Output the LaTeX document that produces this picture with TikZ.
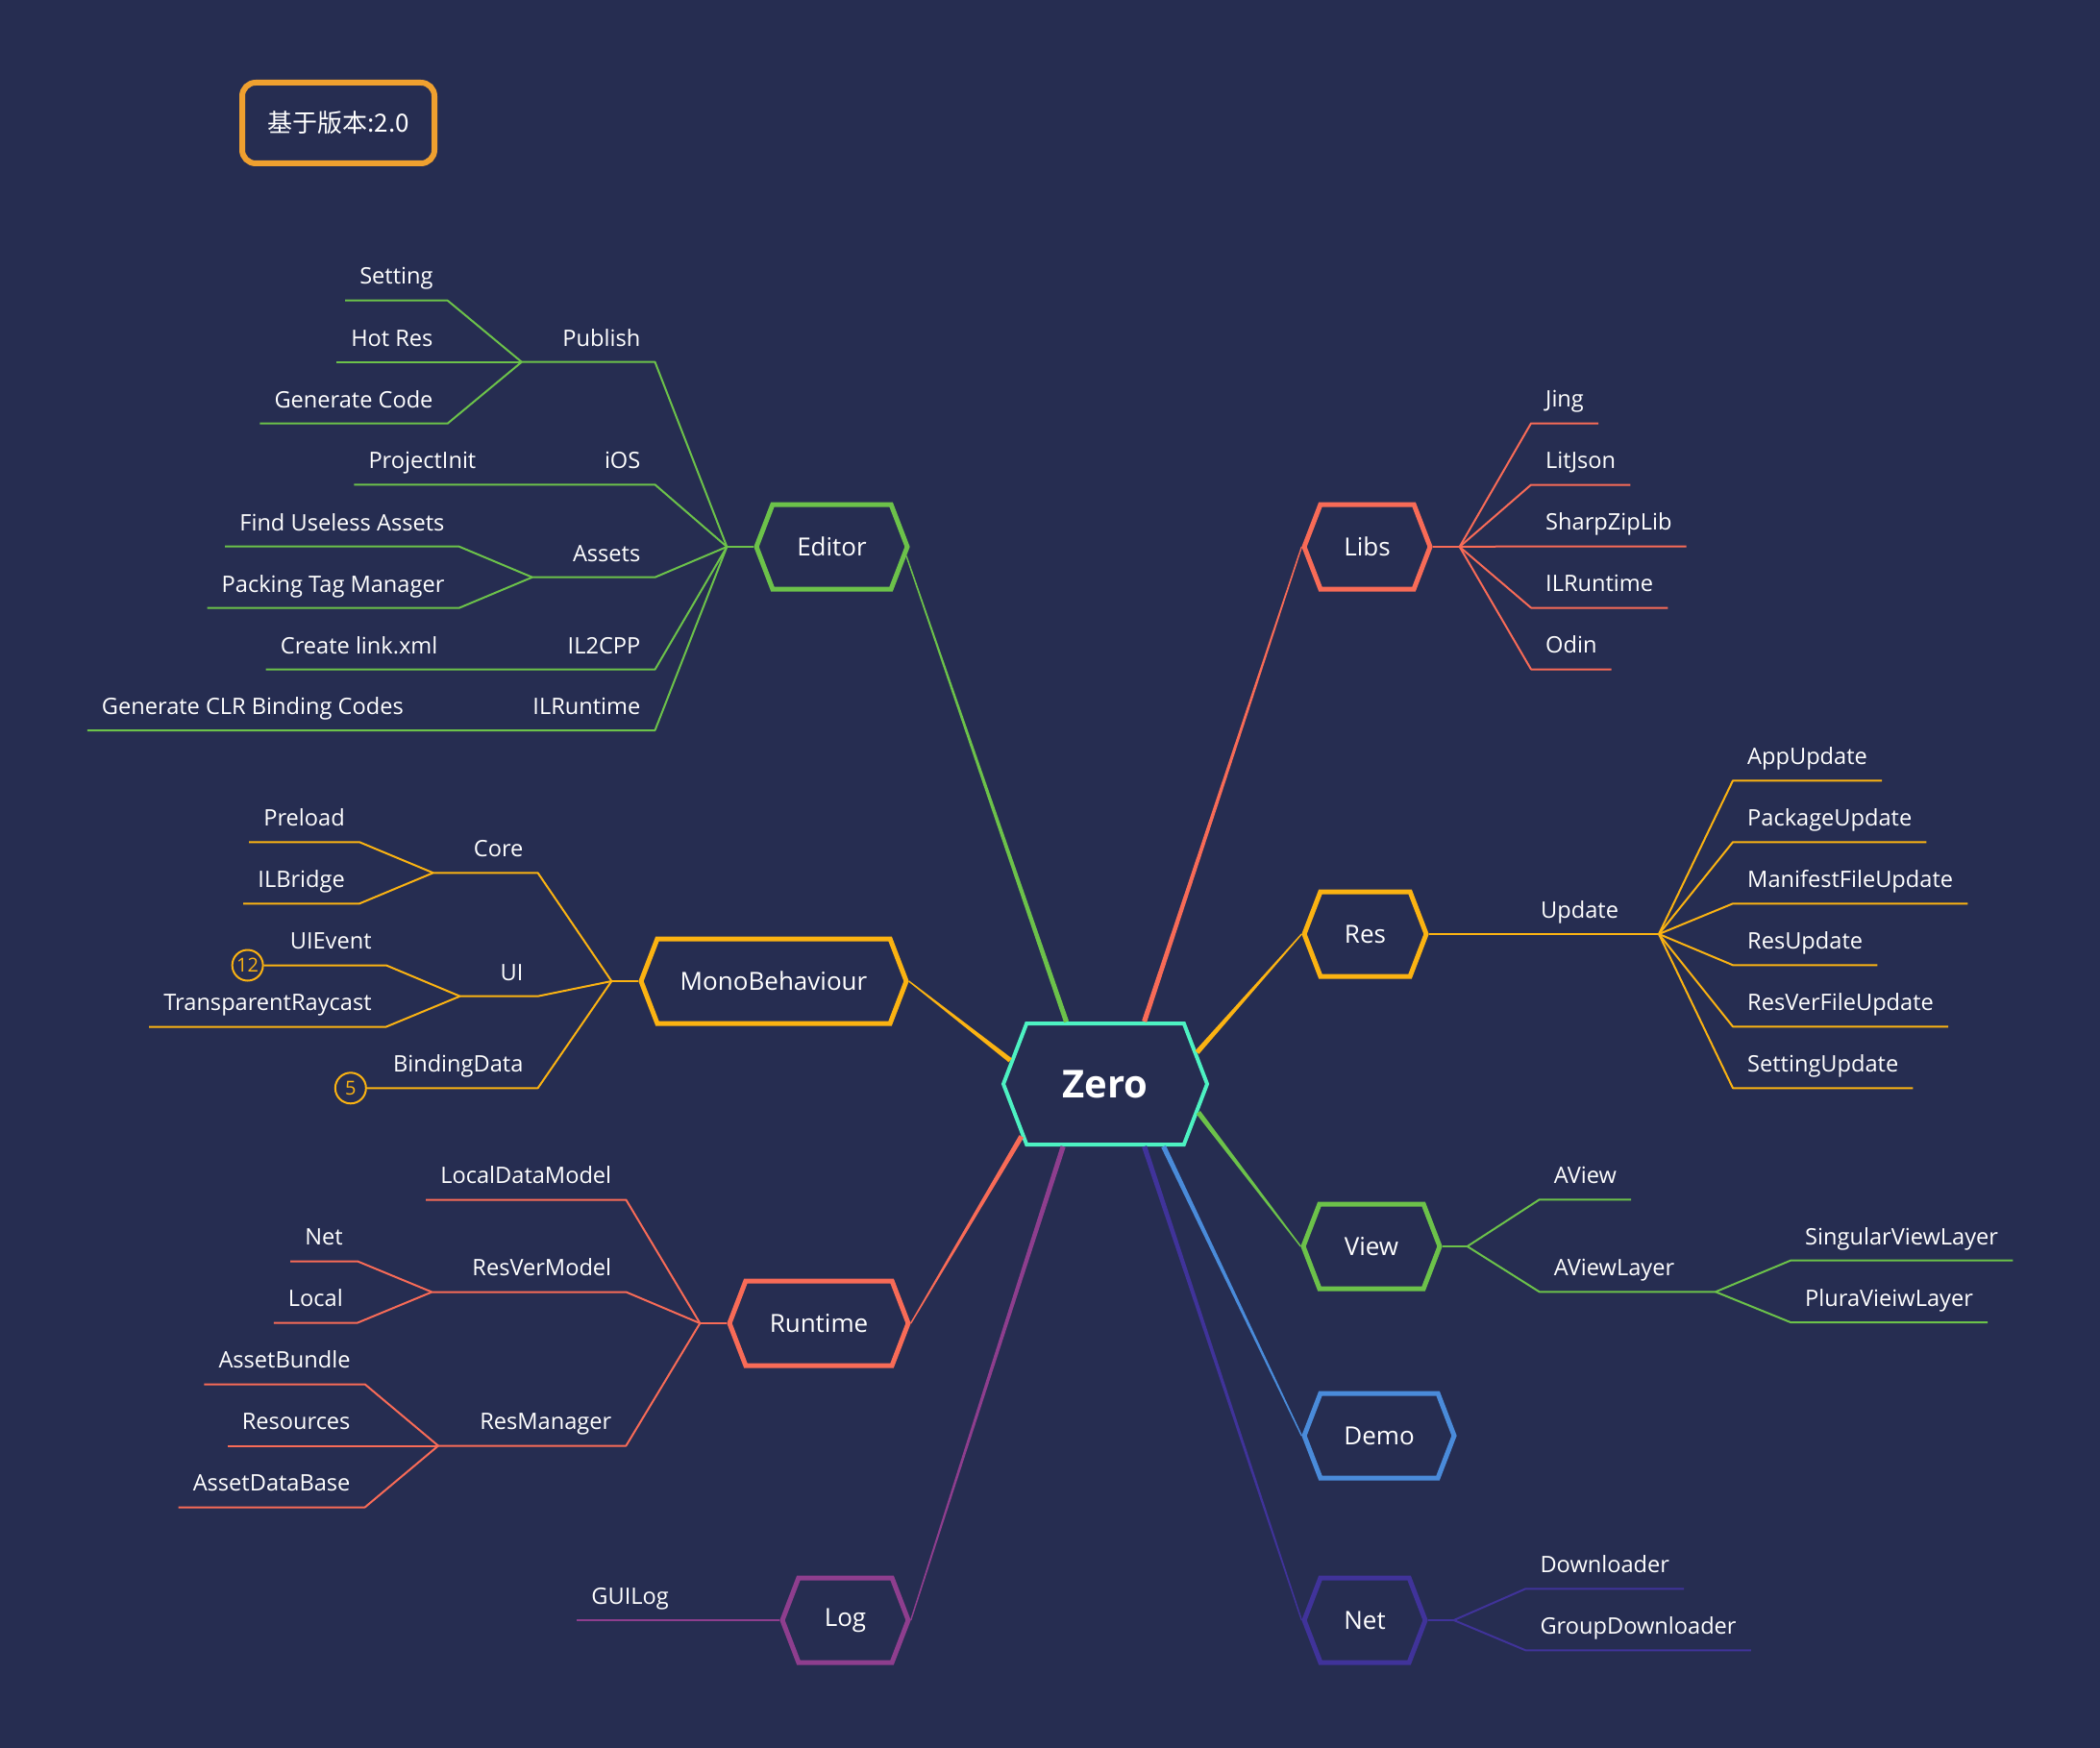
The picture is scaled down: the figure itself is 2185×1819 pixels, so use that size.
\documentclass[tikz,border=0pt]{standalone}
\usepackage{fontspec}
\setmainfont{Open Sans}
\newfontfamily\cjkfont{Noto Sans CJK SC}
\usetikzlibrary{calc,positioning,shapes.symbols}
\definecolor{night}{HTML}{262D51}
\definecolor{aqua}{HTML}{4DF2C2}
\definecolor{leaf}{HTML}{6CC24A}
\definecolor{coral}{HTML}{F86B57}
\definecolor{gold}{HTML}{FBB312}
\definecolor{sky}{HTML}{4A8BDA}
\definecolor{indigo}{HTML}{40339A}
\definecolor{plum}{HTML}{8E3E8E}
\definecolor{amber}{HTML}{EFA02F}
\tikzset{
  hexa/.style={signal,signal to=west and east,signal pointer angle=138,draw=#1,fill=night,line width=5pt,
    text=white,font=\fontsize{26}{31}\selectfont,minimum height=88pt,inner xsep=4pt,inner ysep=0pt},
  lbl/.style={text=white,font=\fontsize{23.6}{28}\selectfont,inner xsep=15pt,inner ysep=10.5pt,
    text height=16pt,text depth=6pt},
  lblL/.style={lbl,anchor=south east},
  lblR/.style={lbl,anchor=south west},
  twig/.style={draw=#1,line width=2pt,line join=round},
  badge/.style={circle,draw=gold,line width=2pt,text=gold,inner sep=0pt,minimum size=32pt,
    font=\fontsize{20}{20}\selectfont},
}
\newcommand{\taper}[3]{% thin at the branch, thick at the centre
  \fill[#3] ($(#1)!0.7pt!90:(#2)$) -- ($(#2)!2.6pt!-90:(#1)$)
    -- ($(#2)!2.6pt!90:(#1)$) -- ($(#1)!0.7pt!-90:(#2)$) -- cycle;}

\begin{document}
\begin{tikzpicture}[x=1pt,y=-1pt]
\fill[night] (0,0) rectangle (2185,1819);
\useasboundingbox (0,0) rectangle (2185,1819);

\node[draw=amber,line width=6pt,rounded corners=14pt,minimum width=200pt,minimum height=84pt,
  text=white,font=\cjkfont\fontsize{26}{31}\selectfont] (ver) at (352,128) {基于版本:2.0};

% main topics
\node[hexa=aqua,minimum width=212pt,minimum height=126pt,line width=4pt,
  font=\bfseries\fontsize{40}{48}\selectfont] (zero) at (1150,1128) {Zero};
\node[hexa=leaf,minimum width=157pt]   (editor)  at (865.5,569)  {Editor};
\node[hexa=coral,minimum width=131pt]  (libs)    at (1422.5,569) {Libs};
\node[hexa=gold,minimum width=276pt]   (mono)    at (805,1021)   {MonoBehaviour};
\node[hexa=gold,minimum width=127pt]   (res)     at (1420.5,972) {Res};
\node[hexa=leaf,minimum width=142pt]   (view)    at (1427,1297)  {View};
\node[hexa=sky,minimum width=156pt]    (demo)    at (1435,1494)  {Demo};
\node[hexa=indigo,minimum width=126pt] (net)     at (1420,1686)  {Net};
\node[hexa=coral,minimum width=186pt]  (runtime) at (852,1377)   {Runtime};
\node[hexa=plum,minimum width=131pt]   (log)     at (879.5,1686) {Log};

\taper{editor.-7}{zero.122}{leaf}
\taper{libs.west}{zero.58}{coral}
\taper{mono.east}{zero.166}{gold}
\taper{res.west}{zero.19}{gold}
\taper{view.west}{zero.343}{leaf}
\taper{demo.west}{zero.313}{sky}
\taper{net.west}{zero.302}{indigo}
\taper{runtime.east}{zero.212}{coral}
\taper{log.east}{zero.236}{plum}

% Editor
\coordinate (edfan) at ([xshift=-28pt]editor.west);
\coordinate (pubfan) at (542.8,376.7);
\coordinate (assfan) at (553.8,600.7);
\node[lblL] (publish)  at (681.5,376.7) {Publish};
\node[lblL] (ios)      at (681.5,504.3) {iOS};
\node[lblL] (assets)   at (681.5,600.7) {Assets};
\node[lblL] (il2cpp)   at (681.5,696.7) {IL2CPP};
\node[lblL] (ilrtl)    at (681.5,760)   {ILRuntime};
\node[lblL] (setting)  at (465.7,312.7) {Setting};
\node[lblL] (hotres)   at (465.7,376.7) {Hot Res};
\node[lblL] (gencode)  at (465.7,440.7) {Generate Code};
\node[lblL] (projinit) at (510.5,504.3) {ProjectInit};
\node[lblL] (useless)  at (477.6,568.7) {Find Useless Assets};
\node[lblL] (packtag)  at (477.6,632.7) {Packing Tag Manager};
\node[lblL] (linkxml)  at (470.6,696.7) {Create link.xml};
\node[lblL] (clrbind)  at (435,760)     {Generate CLR Binding Codes};
\draw[twig=leaf] (editor.west) -- (edfan);
\draw[twig=leaf] (edfan) -- (publish.south east) -- (pubfan);
\draw[twig=leaf] (edfan) -- (ios.south east) -- (projinit.south west);
\draw[twig=leaf] (edfan) -- (assets.south east) -- (assfan);
\draw[twig=leaf] (edfan) -- (il2cpp.south east) -- (linkxml.south west);
\draw[twig=leaf] (edfan) -- (ilrtl.south east) -- (clrbind.south west);
\foreach \n in {setting,hotres,gencode}
  \draw[twig=leaf] (pubfan) -- (\n.south east) -- (\n.south west);
\foreach \n in {useless,packtag}
  \draw[twig=leaf] (assfan) -- (\n.south east) -- (\n.south west);

% MonoBehaviour
\coordinate (monofan) at ([xshift=-28pt]mono.west);
\coordinate (corefan) at (450.7,908.3);
\coordinate (uifan) at (478.6,1036.7);
\node[lblL] (core)     at (559.6,908.3)  {Core};
\node[lblL] (ui)       at (559.6,1036.7) {UI};
\node[lblL] (binding)  at (559.6,1132.3) {BindingData};
\node[lblL] (preload)  at (374,876.3)    {Preload};
\node[lblL] (ilbridge) at (374,940.3)    {ILBridge};
\node[lblL] (uievent)  at (401.8,1004.5) {UIEvent};
\node[lblL] (raycast)  at (401.8,1068.5) {TransparentRaycast};
\node[badge,left=12pt of uievent.south west] (cnt12) {12};
\node[badge,left=12pt of binding.south west] (cnt5) {5};
\draw[twig=gold] (mono.west) -- (monofan);
\draw[twig=gold] (monofan) -- (core.south east) -- (corefan);
\draw[twig=gold] (monofan) -- (ui.south east) -- (uifan);
\draw[twig=gold] (monofan) -- (binding.south east) -- (cnt5.east);
\foreach \n in {preload,ilbridge}
  \draw[twig=gold] (corefan) -- (\n.south east) -- (\n.south west);
\draw[twig=gold] (uifan) -- (uievent.south east) -- (cnt12.east);
\draw[twig=gold] (uifan) -- (raycast.south east) -- (raycast.south west);

% Runtime
\coordinate (rtfan) at ([xshift=-28pt]runtime.west);
\coordinate (resverfan) at (449.4,1344.5);
\coordinate (resmgrfan) at (456,1504.5);
\node[lblL] (localdata) at (651.4,1248.5) {LocalDataModel};
\node[lblL] (resver)    at (651.4,1344.5) {ResVerModel};
\node[lblL] (resmgr)    at (651.4,1504.5) {ResManager};
\node[lblL] (netsrc)    at (372,1312.5)   {Net};
\node[lblL] (localsrc)  at (372,1376.5)   {Local};
\node[lblL] (abundle)   at (379.7,1440.5) {AssetBundle};
\node[lblL] (resources) at (379.7,1504.5) {Resources};
\node[lblL] (adb)       at (379.7,1568.5) {AssetDataBase};
\draw[twig=coral] (runtime.west) -- (rtfan);
\draw[twig=coral] (rtfan) -- (localdata.south east) -- (localdata.south west);
\draw[twig=coral] (rtfan) -- (resver.south east) -- (resverfan);
\draw[twig=coral] (rtfan) -- (resmgr.south east) -- (resmgrfan);
\foreach \n in {netsrc,localsrc}
  \draw[twig=coral] (resverfan) -- (\n.south east) -- (\n.south west);
\foreach \n in {abundle,resources,adb}
  \draw[twig=coral] (resmgrfan) -- (\n.south east) -- (\n.south west);

% Log
\node[lblL] (guilog) at (711,1686) {GUILog};
\draw[twig=plum] (log.west) -- (guilog.south east) -- (guilog.south west);

% Libs
\coordinate (libsfan) at ([xshift=28pt]libs.east);
\node[lblR] (jing)     at (1593,440.5) {Jing};
\node[lblR] (litjson)  at (1593,504.5) {LitJson};
\node[lblR] (sharpzip) at (1593,568.5) {SharpZipLib};
\node[lblR] (ilrtr)    at (1593,632.5) {ILRuntime};
\node[lblR] (odin)     at (1593,696.5) {Odin};
\draw[twig=coral] (libs.east) -- (libsfan);
\foreach \n in {jing,litjson,sharpzip,ilrtr,odin}
  \draw[twig=coral] (libsfan) -- (\n.south west) -- (\n.south east);

% Res
\coordinate (updfan) at (1726,972);
\node[lblR] (update)    at (1588,972)    {Update};
\node[lblR] (appupd)    at (1803,812.3)  {AppUpdate};
\node[lblR] (pkgupd)    at (1803,876.3)  {PackageUpdate};
\node[lblR] (manifest)  at (1803,940.3)  {ManifestFileUpdate};
\node[lblR] (resupd)    at (1803,1004.3) {ResUpdate};
\node[lblR] (resverupd) at (1803,1068.3) {ResVerFileUpdate};
\node[lblR] (setupd)    at (1803,1132.3) {SettingUpdate};
\draw[twig=gold] (res.east) -- (update.south west) -- (updfan);
\foreach \n in {appupd,pkgupd,manifest,resupd,resverupd,setupd}
  \draw[twig=gold] (updfan) -- (\n.south west) -- (\n.south east);

% View
\coordinate (viewfan) at ([xshift=26pt]view.east);
\coordinate (avlfan) at (1785,1344.3);
\node[lblR] (aview)      at (1601.7,1248.3) {AView};
\node[lblR] (aviewlayer) at (1601.7,1344.3) {AViewLayer};
\node[lblR] (singular)   at (1863,1311.7)   {SingularViewLayer};
\node[lblR] (plura)      at (1863,1376)     {PluraVieiwLayer};
\draw[twig=leaf] (view.east) -- (viewfan);
\draw[twig=leaf] (viewfan) -- (aview.south west) -- (aview.south east);
\draw[twig=leaf] (viewfan) -- (aviewlayer.south west) -- (avlfan);
\foreach \n in {singular,plura}
  \draw[twig=leaf] (avlfan) -- (\n.south west) -- (\n.south east);

% Net
\coordinate (netfan) at ([xshift=27pt]net.east);
\node[lblR] (downloader) at (1587.3,1653.3) {Downloader};
\node[lblR] (groupdl)    at (1587.3,1717.3) {GroupDownloader};
\draw[twig=indigo] (net.east) -- (netfan);
\foreach \n in {downloader,groupdl}
  \draw[twig=indigo] (netfan) -- (\n.south west) -- (\n.south east);
\end{tikzpicture}
\end{document}
